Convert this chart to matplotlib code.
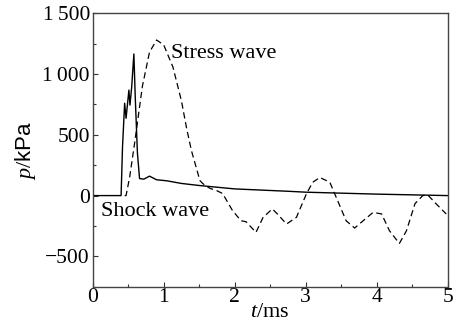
import matplotlib
matplotlib.use("Agg")
import matplotlib.pyplot as plt
from matplotlib.ticker import MultipleLocator, FixedLocator
import numpy as np

# shock wave (solid)
shock_t = [0.0, 0.40, 0.42, 0.45, 0.47, 0.51, 0.525, 0.55, 0.58, 0.60, 0.63, 0.66,
           0.72, 0.80, 0.90, 1.04, 1.25, 1.5, 2.0, 2.5, 2.77, 3.0, 3.5, 4.0, 4.5, 5.0]
shock_p = [0, 0, 400, 760, 636, 868, 744, 900, 1165, 800, 350, 140,
           135, 160, 130, 122, 100, 83, 55, 42, 35, 28, 20, 12, 6, 0]

# stress wave (dashed)
stress_t = [0.45, 0.47, 0.52, 0.59, 0.70, 0.80, 0.90, 1.00, 1.13, 1.25, 1.32, 1.39,
            1.51, 1.55, 1.65, 1.75, 1.83, 1.97, 2.09, 2.16, 2.30, 2.40, 2.53, 2.60,
            2.73, 2.87, 3.01, 3.10, 3.20, 3.34, 3.43, 3.57, 3.69, 3.81, 3.95, 4.07,
            4.18, 4.32, 4.42, 4.54, 4.65, 4.72, 4.84, 4.98]
stress_p = [0, 0, 150, 430, 900, 1180, 1280, 1240, 1058, 780, 562, 372,
            124, 99, 60, 40, 17, -124, -207, -215, -303, -179, -110, -150,
            -234, -179, 14, 110, 149, 110, -14, -207, -267, -207, -138, -151,
            -289, -394, -289, -66, 0, 5, -69, -151]

yticks = [-500, 0, 500, 1000, 1500]
ytick_labels = ["\u2212500", "0", "500", "1\u2009000", "1\u2009500"]

plt.rcParams['font.family'] = ['Liberation Serif', 'DejaVu Serif']
plt.rcParams['mathtext.fontset'] = 'custom'
plt.rcParams['mathtext.rm'] = 'Liberation Serif'
plt.rcParams['mathtext.it'] = 'Liberation Serif:italic'
plt.rcParams['mathtext.sf'] = 'Liberation Sans'

fig = plt.figure(figsize=(4.58, 3.24), dpi=100)
ax = fig.add_axes([0.2024, 0.115, 0.775, 0.844])

ax.plot(shock_t, shock_p, color='black', lw=1.0)
ax.plot(stress_t, stress_p, color='black', lw=0.9, ls=(0, (5, 3)))

ax.set_xlim(0, 5)
ax.set_ylim(-750, 1500)
ax.xaxis.set_major_locator(MultipleLocator(1))
ax.xaxis.set_minor_locator(MultipleLocator(0.5))
ax.yaxis.set_major_locator(FixedLocator(yticks))
ax.set_yticklabels(ytick_labels)
ax.yaxis.set_minor_locator(MultipleLocator(250))
ax.tick_params(which='both', direction='in', labelsize=15.5, color='#333333')
ax.tick_params(which='major', length=3.5, width=0.8)
ax.tick_params(which='minor', length=2, width=0.8)
ax.tick_params(axis='y', pad=2)
ax.tick_params(axis='x', pad=1)
for s in ax.spines.values():
    s.set_color('#444444')
    s.set_linewidth(1.0)

ax.set_xlabel('$t$/ms', fontsize=16, labelpad=-3)
ax.set_ylabel('$p$/$\\mathsf{kPa}$', fontsize=16, labelpad=3)

ax.text(1.11, 1170, 'Stress wave', fontsize=16, va='center', ha='left')
ax.text(0.11, -130, 'Shock wave', fontsize=16, va='center', ha='left')

fig.savefig('out.png', dpi=100)
